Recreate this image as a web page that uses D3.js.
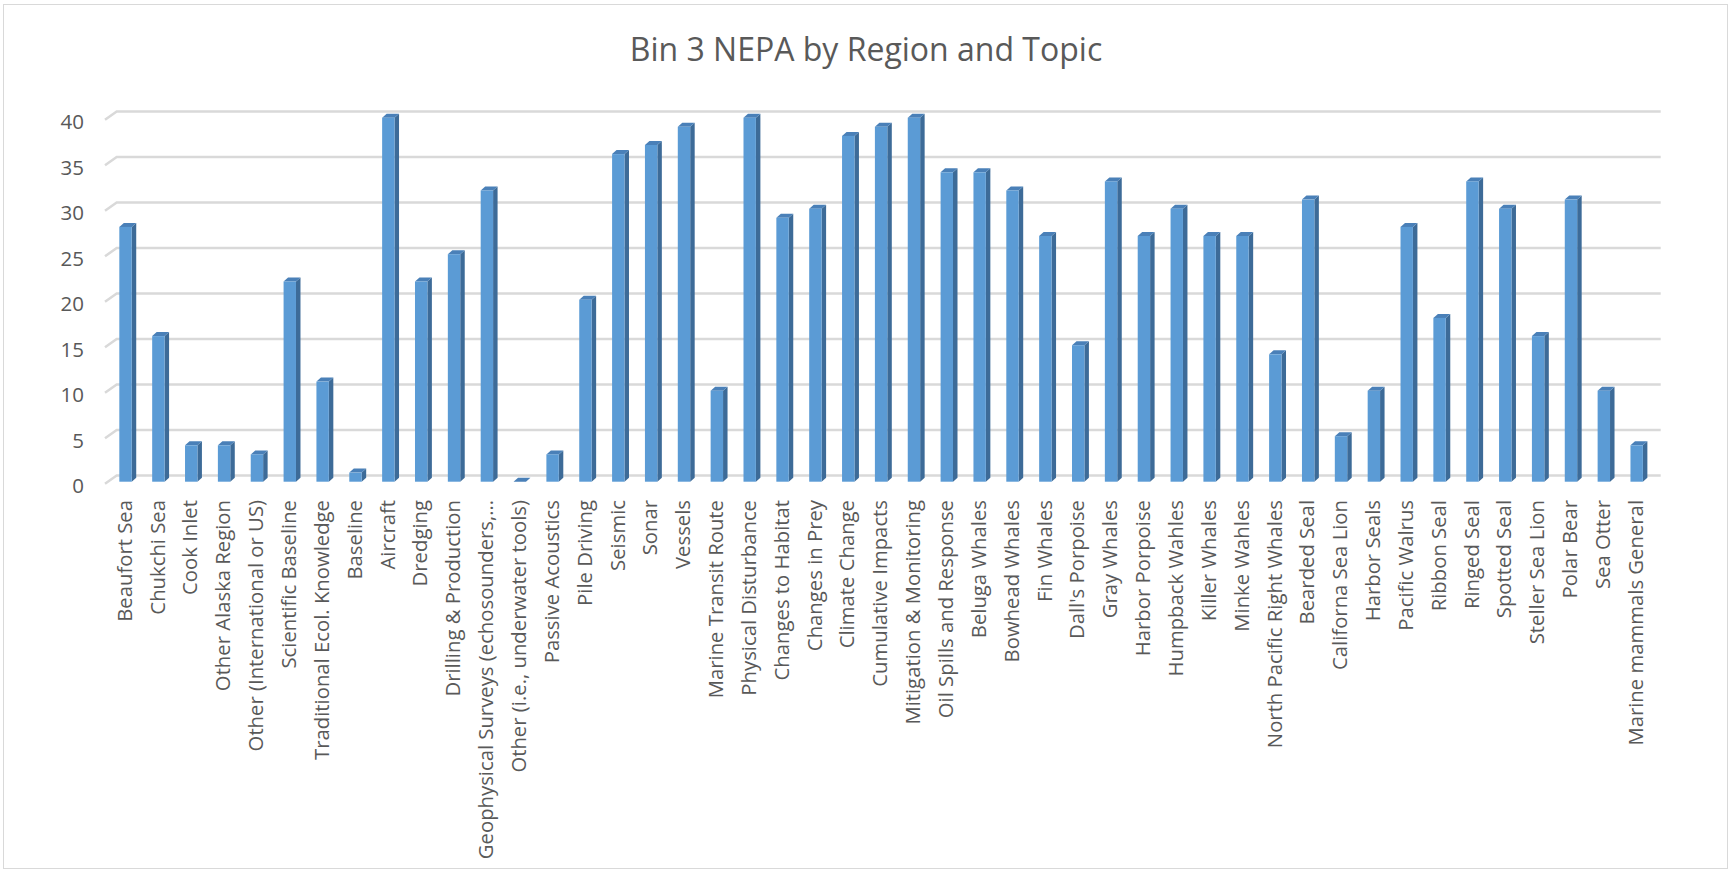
<!DOCTYPE html>
<html>
<head>
<meta charset="utf-8">
<script src="https://cdn.jsdelivr.net/npm/d3@7"></script>
<style>
  html, body { margin: 0; padding: 0; background: #fff; }
  svg { display: block; }
</style>
</head>
<body>
<svg id="chart" width="1730" height="872"></svg>
<script>
const title = "Bin 3 NEPA by Region and Topic";
const categories = [
  "Beaufort Sea", "Chukchi Sea", "Cook Inlet", "Other Alaska Region",
  "Other (International or US)", "Scientific Baseline", "Traditional Ecol. Knowledge",
  "Baseline", "Aircraft", "Dredging", "Drilling & Production",
  "Geophysical Surveys (echosounders,…", "Other (i.e., underwater tools)",
  "Passive Acoustics", "Pile Driving", "Seismic", "Sonar", "Vessels",
  "Marine Transit Route", "Physical Disturbance", "Changes to Habitat",
  "Changes in Prey", "Climate Change", "Cumulative Impacts",
  "Mitigation & Monitoring", "Oil Spills and Response", "Beluga Whales",
  "Bowhead Whales", "Fin Whales", "Dall's Porpoise", "Gray Whales",
  "Harbor Porpoise", "Humpback Wahles", "Killer Whales", "Minke Wahles",
  "North Pacific Right Whales", "Bearded Seal", "Californa Sea Lion",
  "Harbor Seals", "Pacific Walrus", "Ribbon Seal", "Ringed Seal",
  "Spotted Seal", "Steller Sea Lion", "Polar Bear", "Sea Otter",
  "Marine mammals General"
];
const values = [
  28, 16, 4, 4, 3, 22, 11, 1, 40, 22, 25, 32, 0, 3, 20, 36, 37, 39, 10, 40,
  29, 30, 38, 39, 40, 34, 34, 32, 27, 15, 33, 27, 30, 27, 27, 14, 31, 5, 10,
  28, 18, 33, 30, 16, 31, 10, 4
];
const yTicks = [0, 5, 10, 15, 20, 25, 30, 35, 40];

const svg = d3.select("#chart");
const font = "'Open Sans', 'Noto Sans', sans-serif";
const textColor = "#595959";

// chart border
svg.append("rect")
  .attr("x", 3.5).attr("y", 4.5)
  .attr("width", 1724).attr("height", 864)
  .attr("fill", "#fff").attr("stroke", "#d9d9d9").attr("stroke-width", 1);

// title
svg.append("text")
  .attr("x", 866).attr("y", 61)
  .attr("text-anchor", "middle")
  .attr("font-family", font).attr("font-size", 32)
  .attr("fill", textColor)
  .text(title);

// scales (back wall)
const x = d3.scaleBand().domain(categories).range([116.7, 1660.7]).padding(0);
const y = d3.scaleLinear().domain([0, 40]).range([475.5, 111.5]);

// 3D offsets
const depthDx = 11.7, depthDy = -8.3;   // wall/floor depth for gridline ticks
const frontDy = 6.2;                     // bar front face below back wall
const barDx = 4.5, barDy = -4;           // bar depth

// gridlines with diagonal floor segment
const grid = svg.append("g");
grid.selectAll("path")
  .data(yTicks)
  .join("path")
  .attr("d", d => {
    const yy = y(d);
    return `M${116.7 - depthDx},${yy - depthDy} L116.7,${yy} L1660.7,${yy}`;
  })
  .attr("fill", "none")
  .attr("stroke", "#d9d9d9")
  .attr("stroke-width", 2.5);

// y tick labels
svg.append("g").selectAll("text")
  .data(yTicks)
  .join("text")
  .attr("x", 84)
  .attr("y", d => y(d) + 10.5)
  .attr("dy", "0.35em")
  .attr("text-anchor", "end")
  .attr("font-family", font).attr("font-size", 20.5)
  .attr("fill", textColor)
  .text(d => d);

// bars
const bw = 12.4;
const bars = svg.append("g").selectAll("g")
  .data(categories.map((c, i) => ({ c, v: values[i] })))
  .join("g");

const fx = d => x(d.c) + x.bandwidth() / 2 - 13.8;
const ftop = d => y(d.v) + frontDy;
const fbot = () => y(0) + frontDy;

// side face
bars.append("path")
  .attr("d", d => {
    const x0 = fx(d) + bw, t = ftop(d), b = fbot();
    return `M${x0},${t} L${x0 + barDx},${t + barDy} L${x0 + barDx},${b + barDy} L${x0},${b} Z`;
  })
  .attr("fill", "#3d6b98");

// top face
bars.append("path")
  .attr("d", d => {
    const x0 = fx(d), t = ftop(d);
    return `M${x0},${t} L${x0 + barDx},${t + barDy} L${x0 + bw + barDx},${t + barDy} L${x0 + bw},${t} Z`;
  })
  .attr("fill", "#4a80b8");

// front face
bars.append("rect")
  .attr("x", d => fx(d))
  .attr("y", d => ftop(d))
  .attr("width", bw)
  .attr("height", d => fbot() - ftop(d))
  .attr("fill", "#5b9bd5");

// category labels
svg.append("g").selectAll("text")
  .data(categories)
  .join("text")
  .attr("transform", d => `translate(${x(d) + x.bandwidth() / 2 - 8.5},500) rotate(-90)`)
  .attr("dy", "0.35em")
  .attr("text-anchor", "end")
  .attr("font-family", font).attr("font-size", 20.3)
  .attr("fill", textColor)
  .text(d => d);
</script>
</body>
</html>
